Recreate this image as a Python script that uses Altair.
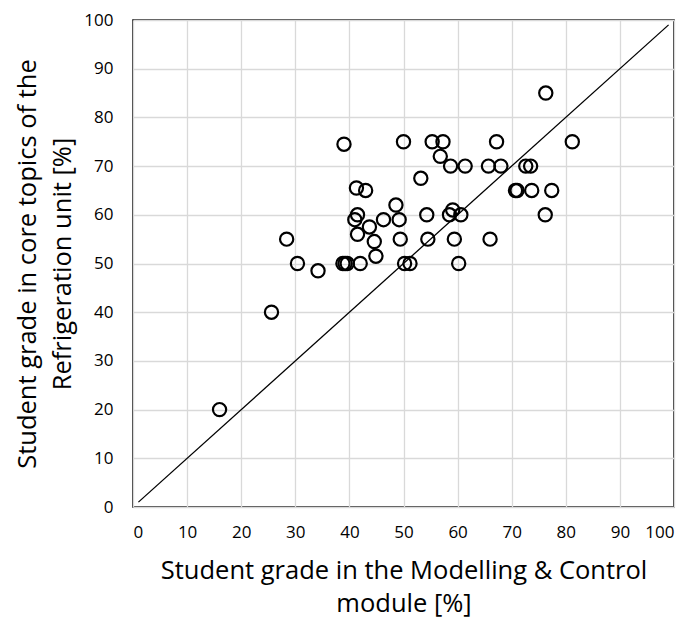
import altair as alt
import pandas as pd

# Student grades: Modelling & Control module (x) vs Refrigeration core topics (y)
mc_grade = [16, 25.6, 28.4, 30.4, 34.2, 38.8, 39.2, 39.6, 39, 41.3,
            43, 41.5, 41, 41.5, 42, 43.7, 44.6, 44.9, 46.3, 48.6,
            49.2, 49.4, 50, 50.2, 51.2, 53.2, 54.3, 54.5, 55.3, 56.8,
            57.3, 58.7, 58.5, 59.1, 59.4, 60.2, 60.6, 61.4, 65.7, 66,
            67.2, 68, 70.7, 71, 72.6, 73.5, 73.7, 76.3, 76.2, 77.4, 81.2]
ref_grade = [20, 40, 55, 50, 48.5, 50, 50, 50, 74.5, 65.5,
             65, 60, 59, 56, 50, 57.5, 54.5, 51.5, 59, 62,
             59, 55, 75, 50, 50, 67.5, 60, 55, 75, 72,
             75, 70, 60, 61, 55, 50, 60, 70, 70, 55,
             75, 70, 65, 65, 70, 70, 65, 85, 60, 65, 75]

# y = x reference line
line_x = [1, 99]
line_y = [1, 99]

ticks = [0, 10, 20, 30, 40, 50, 60, 70, 80, 90, 100]

pts = pd.DataFrame({"x": mc_grade, "y": ref_grade})
diag = pd.DataFrame({"x": line_x, "y": line_y})

FONT = "Open Sans"
W, H = 541, 487

xscale = alt.Scale(domain=[0, 100], nice=False)
yscale = alt.Scale(domain=[0, 100], nice=False)

xaxis = alt.Axis(values=ticks, title=["Student grade in the Modelling & Control", "module [%]"],
                 grid=True, gridColor="#d9d9d9", gridWidth=1.3, ticks=False, domain=False,
                 labelFontSize=17, labelColor="#000", labelPadding=17, labelFont=FONT,
                 titleFont=FONT, titleFontSize=25.5, titleFontWeight="normal", titleColor="#000",
                 titleX=W / 2, titleY=71, titleAlign="center", titleBaseline="alphabetic",
                 titleLineHeight=33)
yaxis = alt.Axis(values=ticks, title=["Student grade in core topics of the", "Refrigeration unit [%]"],
                 grid=True, gridColor="#d9d9d9", gridWidth=1.3, ticks=False, domain=False,
                 labelFontSize=17, labelColor="#000", labelPadding=20, labelFont=FONT,
                 titleFont=FONT, titleFontSize=25.5, titleFontWeight="normal", titleColor="#000",
                 titleX=-98, titleY=H / 2, titleAngle=270, titleAlign="center",
                 titleBaseline="alphabetic", titleLineHeight=35)

points = alt.Chart(pts).mark_point(shape="circle", filled=False, color="black",
                                   size=175, strokeWidth=2.2, opacity=1).encode(
    x=alt.X("x:Q", scale=xscale, axis=xaxis),
    y=alt.Y("y:Q", scale=yscale, axis=yaxis),
)

line = alt.Chart(diag).mark_line(color="black", strokeWidth=1.3).encode(
    x=alt.X("x:Q", scale=xscale),
    y=alt.Y("y:Q", scale=yscale),
)

chart = alt.layer(line, points).properties(
    width=W, height=H,
    autosize=alt.AutoSizeParams(type="none"),
    padding={"left": 125, "top": 12, "right": 8, "bottom": 112},
).configure_view(stroke="black", strokeWidth=1.5)

chart.save("out.html", embed_options={"renderer": "svg", "actions": False})
